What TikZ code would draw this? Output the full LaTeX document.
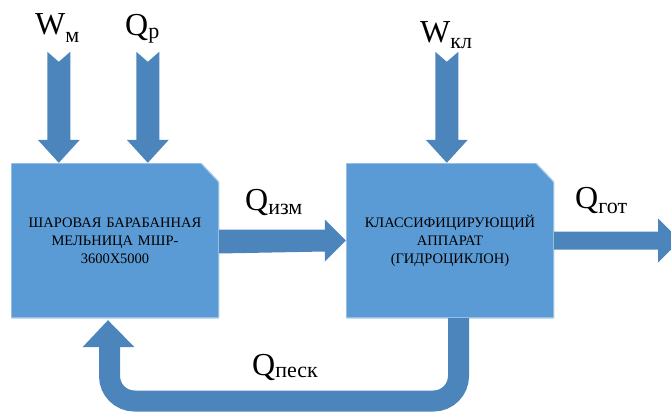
\documentclass[tikz,border=0pt]{standalone}
\usepackage{fontspec}
\setmainfont{Liberation Serif}
\newfontfamily\tms{LiberationSerif-Regular.ttf}
\newfontfamily\boxfont{Liberation Serif}
\usetikzlibrary{calc}
\definecolor{boxblue}{RGB}{91,155,213}
\definecolor{flowblue}{RGB}{76,133,187}
\newcommand\SubTxt[2]{\raisebox{-#1}{\fontsize{22}{22}\selectfont #2}}

\begin{document}
\begin{tikzpicture}[x=1pt,y=-1pt,
  unit/.style={rectangle, minimum width=208pt, minimum height=155pt, inner sep=0pt,
    text width=195pt, align=center,
    path picture={
      \fill[boxblue, draw=white!55!boxblue, line width=1.2pt]
        (path picture bounding box.south west) -- (path picture bounding box.north west)
        -- ([xshift=-18pt]path picture bounding box.north east)
        -- ([yshift=-19pt]path picture bounding box.north east)
        -- (path picture bounding box.south east) -- cycle;}},
  flow/.style={fill=flowblue},
  lbl/.style={anchor=base west, inner sep=0pt},
  downflow/.pic={\fill[flow] (0,0) -- (-21,-23) -- (-11.5,-23) -- (-11.5,-111)
      -- (0,-101) -- (11.5,-111) -- (11.5,-23) -- (21,-23) -- cycle;},
]
\useasboundingbox (0,0) rectangle (671,412);

% process units
\node[unit, font=\boxfont\fontsize{14.5}{18}\selectfont] (mill) at (115,240.5)
  {ШАРОВАЯ БАРАБАННАЯ\\МЕЛЬНИЦА МШР-\\3600Х5000};
\node[unit, font=\boxfont\fontsize{14.5}{18}\selectfont] (cls) at (450,240.5)
  {КЛАССИФИЦИРУЮЩИЙ\\АППАРАТ\\(ГИДРОЦИКЛОН)};

% feed arrows from above
\path (mill.north west) ++(48,0) coordinate (tWm);
\path (mill.north west) ++(137,0) coordinate (tQp);
\path (cls.north west) ++(101,0) coordinate (tWk);
\pic at (tWm) {downflow};
\pic at (tQp) {downflow};
\pic at (tWk) {downflow};

% mill -> classifier
\fill[flow] ($(mill.east)+(0,-11)$) -- ($(cls.west)+(-21,-11)$) -- ++(0,-10)
  -- (cls.west) -- ++(-21,21) -- ++(0,-10) -- ($(mill.east)+(0,13)$) -- cycle;

% finished product out, running off the right edge
\fill[flow] ($(cls.east)+(0,-9)$) -- ++(104,0) -- ++(0,-13) -- ++(13,13)
  -- ++(0,18) -- ++(-13,13) -- ++(0,-13) -- ($(cls.east)+(0,9)$) -- cycle;

% sand return loop
\coordinate (ret) at ($(cls.south)+(8.5,0)$);
\coordinate (retb) at (109.5,401);
\coordinate (reth) at ($(mill.south)+(-5.5,29)$);
\draw[flowblue, line width=21pt, rounded corners=25pt] (ret) |- (retb) -- (reth);
\fill[flow] ($(reth)+(-27,0)$) -- ($(reth)+(25,0)$) -- ($(mill.south)+(-7,2)$) -- cycle;

% stream labels
\node[lbl, font=\tms\fontsize{32}{32}\selectfont] (lWm) at (35,35) {W\SubTxt{8pt}{м}};
\node[lbl, font=\tms\fontsize{32}{32}\selectfont] (lQp) at (125,36) {Q\SubTxt{3pt}{р}};
\node[lbl, font=\tms\fontsize{32}{32}\selectfont] (lWk) at (420,42) {W\SubTxt{6pt}{кл}};
\node[lbl, font=\tms\fontsize{32}{32}\selectfont] (lQi) at (245,210) {Q\SubTxt{4pt}{изм}};
\node[lbl, font=\tms\fontsize{32}{32}\selectfont] (lQg) at (575,208) {Q\SubTxt{5pt}{гот}};
\node[lbl, font=\tms\fontsize{32}{32}\selectfont] (lQs) at (252,375) {Q\SubTxt{2pt}{песк}};
\end{tikzpicture}
\end{document}
